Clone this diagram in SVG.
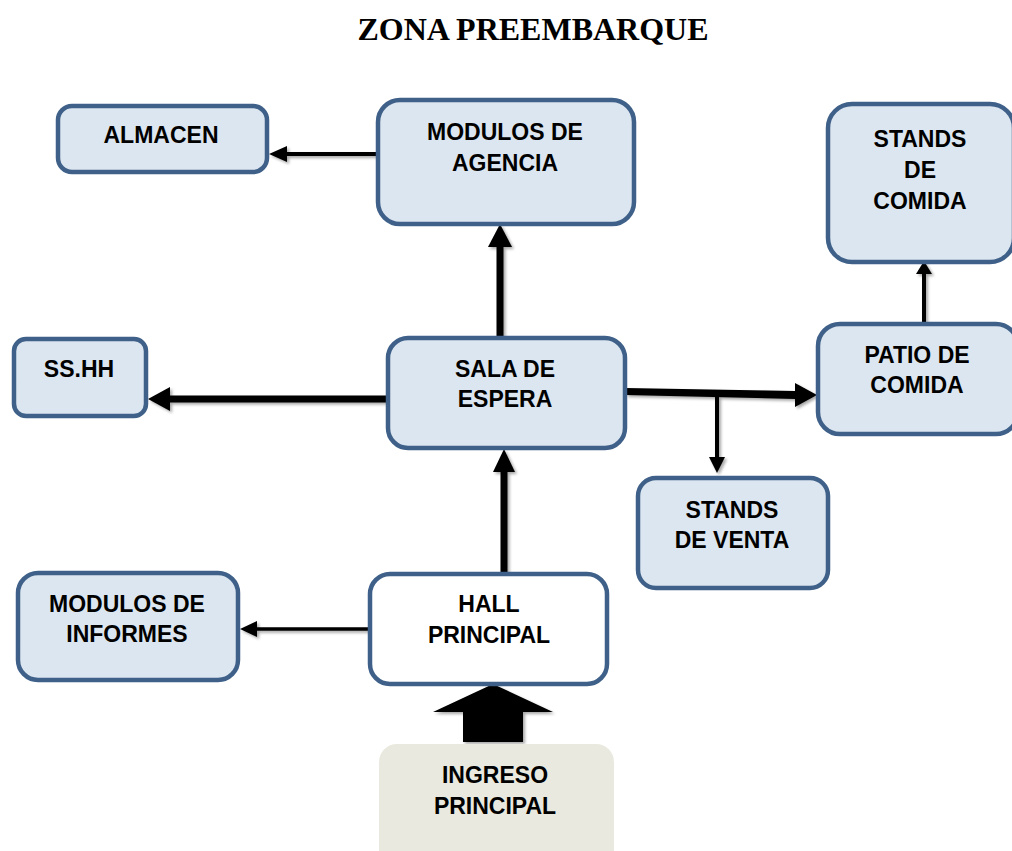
<svg xmlns="http://www.w3.org/2000/svg" width="1012" height="851" viewBox="0 0 1012 851">
<style>
.box{fill:#DCE6F0;stroke:#3F6189;stroke-width:4.5}
.white{fill:#FFFFFF;stroke:#3F6189;stroke-width:4.5}
.t{font-family:"Liberation Sans",Arial,sans-serif;font-weight:bold;font-size:23px;fill:#000;text-anchor:middle}
.title{font-family:"Liberation Serif","Times New Roman",serif;font-weight:bold;font-size:32px;fill:#000;text-anchor:middle}
.ln{stroke:#000;fill:none}
</style>
<defs>
<filter id="sh" x="-10%" y="-10%" width="130%" height="130%">
<feGaussianBlur in="SourceAlpha" stdDeviation="1.5"/>
<feOffset dx="2" dy="2" result="b"/>
<feComponentTransfer><feFuncA type="linear" slope="0.35"/></feComponentTransfer>
<feMerge><feMergeNode/><feMergeNode in="SourceGraphic"/></feMerge>
</filter>
</defs>
<rect width="1012" height="851" fill="#FFFFFF"/>
<text class="title" x="533" y="40">ZONA PREEMBARQUE</text>

<g id="connectors" filter="url(#sh)">
<line class="ln" x1="378" y1="154" x2="285" y2="154" stroke-width="4"/>
<polygon points="269,154 287,146 287,162"/>
<line class="ln" x1="500" y1="337" x2="500" y2="245" stroke-width="7"/>
<polygon points="500,224 488,247 512,247"/>
<line class="ln" x1="387" y1="399" x2="168" y2="399" stroke-width="7"/>
<polygon points="148,399 170,387 170,411"/>
<polygon points="626,388 795,391 795,399 626,395"/>
<polygon points="817,395 795,383 795,407"/>
<line class="ln" x1="717" y1="395" x2="717" y2="458" stroke-width="4"/>
<polygon points="717,473 709,457 725,457"/>
<line class="ln" x1="924" y1="323" x2="924" y2="272" stroke-width="4"/>
<polygon points="924,261 916,274 932,274"/>
<line class="ln" x1="371" y1="629" x2="255" y2="629" stroke-width="3.5"/>
<polygon points="240,629 257,621 257,637"/>
<line class="ln" x1="504" y1="573" x2="504" y2="470" stroke-width="7"/>
<polygon points="504,449 493,472 515,472"/>
<polygon points="493,684 553,712 523,712 523,742 463,742 463,712 433,712"/>
</g>

<g id="almacen">
<rect class="box" x="58" y="106" width="209" height="66" rx="14"/>
<text class="t" x="161" y="143">ALMACEN</text>
</g>
<g id="modulos-agencia">
<rect class="box" x="378" y="100" width="256" height="124" rx="22"/>
<text class="t" x="505" y="140">MODULOS DE</text>
<text class="t" x="505" y="171">AGENCIA</text>
</g>
<g id="stands-comida">
<rect class="box" x="828" y="104" width="186" height="158" rx="24"/>
<text class="t" x="920" y="147">STANDS</text>
<text class="t" x="920" y="178">DE</text>
<text class="t" x="920" y="209">COMIDA</text>
</g>
<g id="ss-hh">
<rect class="box" x="14" y="339" width="132" height="77" rx="12"/>
<text class="t" x="79" y="377">SS.HH</text>
</g>
<g id="sala-espera">
<rect class="box" x="388" y="338" width="237" height="110" rx="20"/>
<text class="t" x="505" y="377">SALA DE</text>
<text class="t" x="505" y="407">ESPERA</text>
</g>
<g id="patio-comida">
<rect class="box" x="818" y="324" width="200" height="110" rx="22"/>
<text class="t" x="917" y="363">PATIO DE</text>
<text class="t" x="917" y="393">COMIDA</text>
</g>
<g id="stands-venta">
<rect class="box" x="638" y="478" width="190" height="110" rx="18"/>
<text class="t" x="732" y="518">STANDS</text>
<text class="t" x="732" y="548">DE VENTA</text>
</g>
<g id="modulos-informes">
<rect class="box" x="18" y="573" width="220" height="107" rx="20"/>
<text class="t" x="127" y="612">MODULOS DE</text>
<text class="t" x="127" y="642">INFORMES</text>
</g>
<g id="hall-principal">
<rect class="white" x="370" y="574" width="237" height="110" rx="20"/>
<text class="t" x="489" y="612">HALL</text>
<text class="t" x="489" y="643">PRINCIPAL</text>
</g>
<g id="ingreso-principal">
<rect x="379" y="744" width="235" height="130" rx="18" fill="#E9E9DF"/>
<text class="t" x="495" y="783">INGRESO</text>
<text class="t" x="495" y="814">PRINCIPAL</text>
</g>
</svg>
